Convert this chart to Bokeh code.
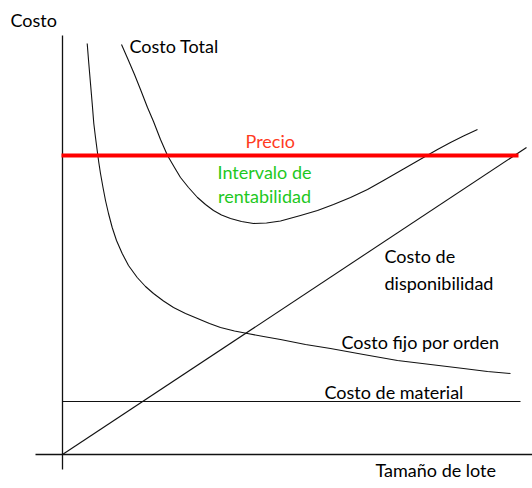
from bokeh.plotting import figure
from bokeh.models import Range1d
from bokeh.core.properties import value
from bokeh.embed import file_html
from bokeh.resources import INLINE

# Conceptual cost curves (lot size vs cost)
fixed_x = [24.7, 26.3, 28, 29.7, 31.3, 33, 34.7, 36.3, 38, 40.5, 43, 46, 49.7,
           54, 59.7, 66, 74.7, 83, 91, 101, 111, 123, 135, 147, 158, 172, 185,
           201, 218, 243, 268, 301, 335, 368, 401, 425, 448]
fixed_y = [411, 391, 371, 351, 331, 317, 304, 292, 281, 267, 254, 241, 227,
           214, 201, 189, 177, 168, 161, 153.5, 147, 141, 136, 131, 127, 123.5,
           121, 118, 115, 110, 106, 100, 94, 90, 86, 83, 81]

total_x = [59, 66, 72, 78, 85, 91, 98, 105, 112, 118, 126, 135, 143, 151, 159,
           168, 179, 191, 204, 218, 238, 255, 271, 288, 305, 321, 341, 361, 375,
           388, 401, 415]
total_y = [410, 394, 380, 365, 347, 333, 315, 299, 287, 277, 267, 257, 250, 244,
           239.5, 236, 233, 231, 231.5, 233.5, 239, 244, 250, 257, 265, 274,
           285.5, 297, 305, 312, 318.5, 325]

holding_x = [0, 464]
holding_y = [0, 307]

material_x = [0, 458]
material_y = [53, 53]

price_x = [-1, 456]
price_y = [299, 299]

axis_y_x = [0, 0]
axis_y_y = [-15, 419]
axis_x_x = [-27, 470]
axis_x_y = [0, 0]

labels = ["Costo", "Costo Total", "Costo de", "disponibilidad",
          "Costo fijo por orden", "Costo de material", "Tamaño de lote"]
labels_x = [-52, 67, 322, 322, 279, 262, 313]
labels_y = [435, 409, 199, 172, 113, 63, -15]

price_label = ["Precio"]
price_label_x = [183]
price_label_y = [314]

interval_label = ["Intervalo de", "rentabilidad"]
interval_label_x = [202, 202]
interval_label_y = [283, 259]

p = figure(width=532, height=488, output_backend="svg", toolbar_location=None,
           x_range=Range1d(-62, 470), y_range=Range1d(-34, 454),
           min_border=0, min_border_left=0, min_border_right=0,
           min_border_top=0, min_border_bottom=0)
p.axis.visible = False
p.grid.visible = False
p.outline_line_color = None
p.background_fill_color = "white"
p.border_fill_color = "white"

black = "#111111"
p.line(axis_y_x, axis_y_y, line_color=black, line_width=1.3)
p.line(axis_x_x, axis_x_y, line_color=black, line_width=1.3)
p.line(material_x, material_y, line_color=black, line_width=1.1)
p.line(holding_x, holding_y, line_color=black, line_width=1.1)
p.line(fixed_x, fixed_y, line_color=black, line_width=1.1, line_join="round")
p.line(total_x, total_y, line_color=black, line_width=1.1, line_join="round")
p.line(price_x, price_y, line_color="#ff0000", line_width=4)

font = value("Lato")
size = "18px"
p.text(labels_x, labels_y, text=labels, text_font=font, text_font_size=size,
       text_color="#000000", text_align="left", text_baseline="middle")
p.text(price_label_x, price_label_y, text=price_label, text_font=font,
       text_font_size=size, text_color="#ff3b1f", text_align="left",
       text_baseline="middle")
p.text(interval_label_x, interval_label_y, text=interval_label, text_font=font,
       text_font_size=size, text_color="#1ec81e", text_align="center",
       text_baseline="middle")

open("out.html", "w").write(file_html(p, INLINE))
